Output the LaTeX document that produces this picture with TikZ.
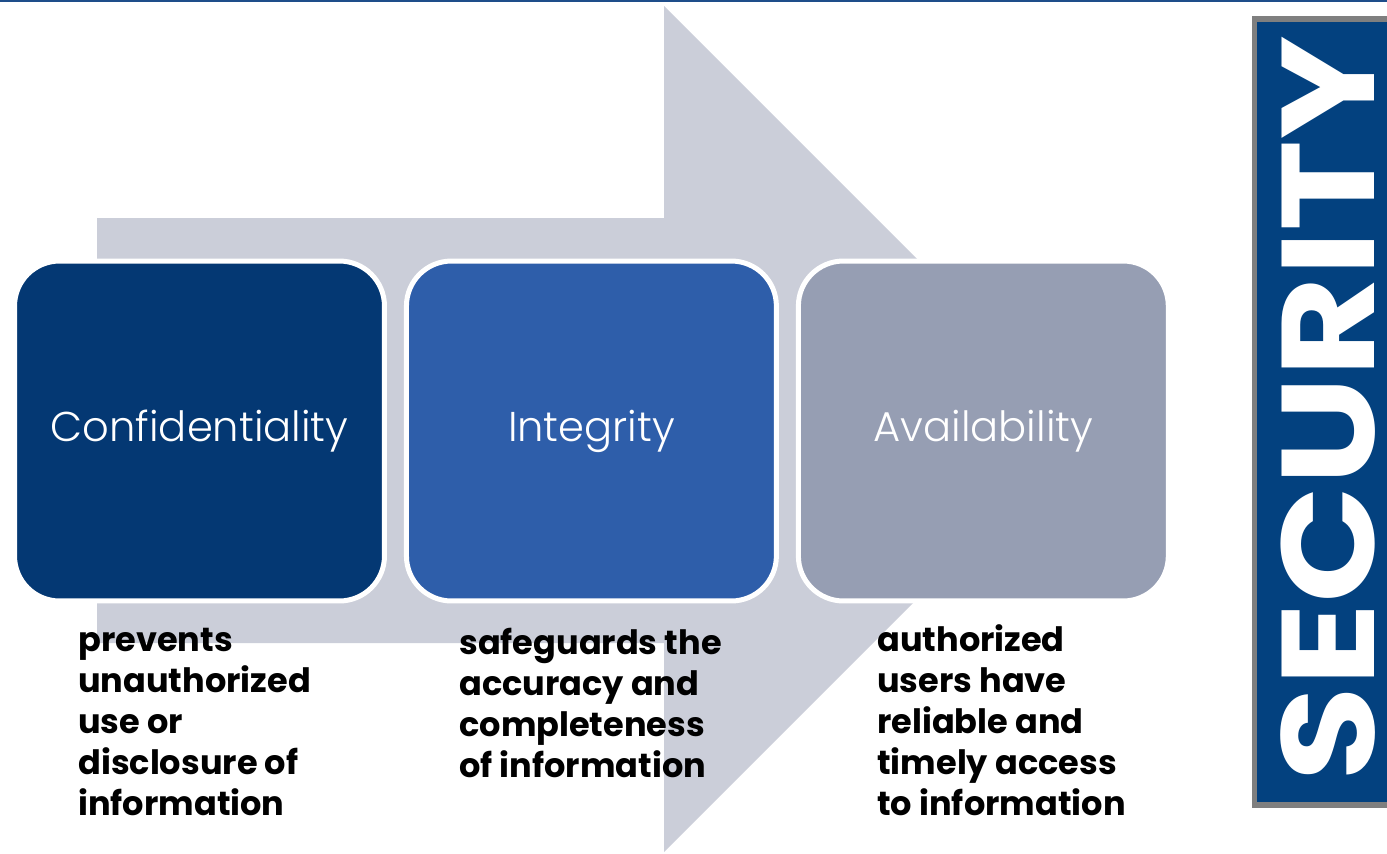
\documentclass[tikz,border=0pt]{standalone}
\usepackage{fontspec}
\setmainfont{Poppins}
\IfFontExistsTF{Poppins Light}{\newfontfamily\thinfont{Poppins Light}}{\newfontfamily\thinfont{Poppins}}
\usetikzlibrary{positioning}
\definecolor{TopBlue}{HTML}{1E4D8A}
\definecolor{ArrowGray}{HTML}{CBCED9}
\definecolor{ConfBlue}{HTML}{043873}
\definecolor{IntBlue}{HTML}{2E5EAA}
\definecolor{AvailGray}{HTML}{969EB3}
\definecolor{SecBlue}{HTML}{03417F}
\definecolor{ShadowGray}{HTML}{7F7F7F}
\tikzset{
	pillar/.style={draw=white, line width=0.1cm, rounded corners=0.9cm, minimum width=7.4cm, minimum height=6.8cm, text=white, font=\thinfont\fontsize{23.7}{28}\selectfont},
	caption/.style={anchor=base west, align=left, inner sep=0pt, font=\bfseries\fontsize{19.1}{23.3}\selectfont}
}

\begin{document}
\begin{tikzpicture}[x=0.02cm, y=-0.02cm]
	\useasboundingbox (0,0) rectangle (1387,853);
	
	\draw[TopBlue, line width=0.04cm] (0,1) -- (1387,1);
	
	\fill[ArrowGray] (97,218) -- (664,218) -- (664,6) -- (1087,429) -- (664,852) -- (664,643) -- (97,643) -- cycle;
	
	\node[pillar, fill=ConfBlue] (conf) at (199.5,431) {Confidentiality};
	\node[pillar, fill=IntBlue, right=0.34cm of conf] (integ) {Integrity};
	\node[pillar, fill=AvailGray, right=0.34cm of integ] (avail) {Availability};
	
	% anchored on the last line
	\node[caption] (confnote) at (78,815) {prevents\\unauthorized\\use or\\disclosure of\\information};
	\node[caption] (integnote) at (459,777) {safeguards the\\accuracy and\\completeness\\of information};
	\node[caption] (availnote) at (877,815) {authorized\\users have\\reliable and\\timely access\\to information};
	
	\fill[ShadowGray] (1252,16) rectangle (1387,808);
	\fill[SecBlue] (1257,22) rectangle (1387,802);
	\node[rotate=90, inner sep=0pt, text=white, font=\bfseries\fontsize{75}{75}\selectfont] (sec) at (1328,409) {\scalebox{1.17}[1]{SECURITY}};
\end{tikzpicture}
\end{document}
